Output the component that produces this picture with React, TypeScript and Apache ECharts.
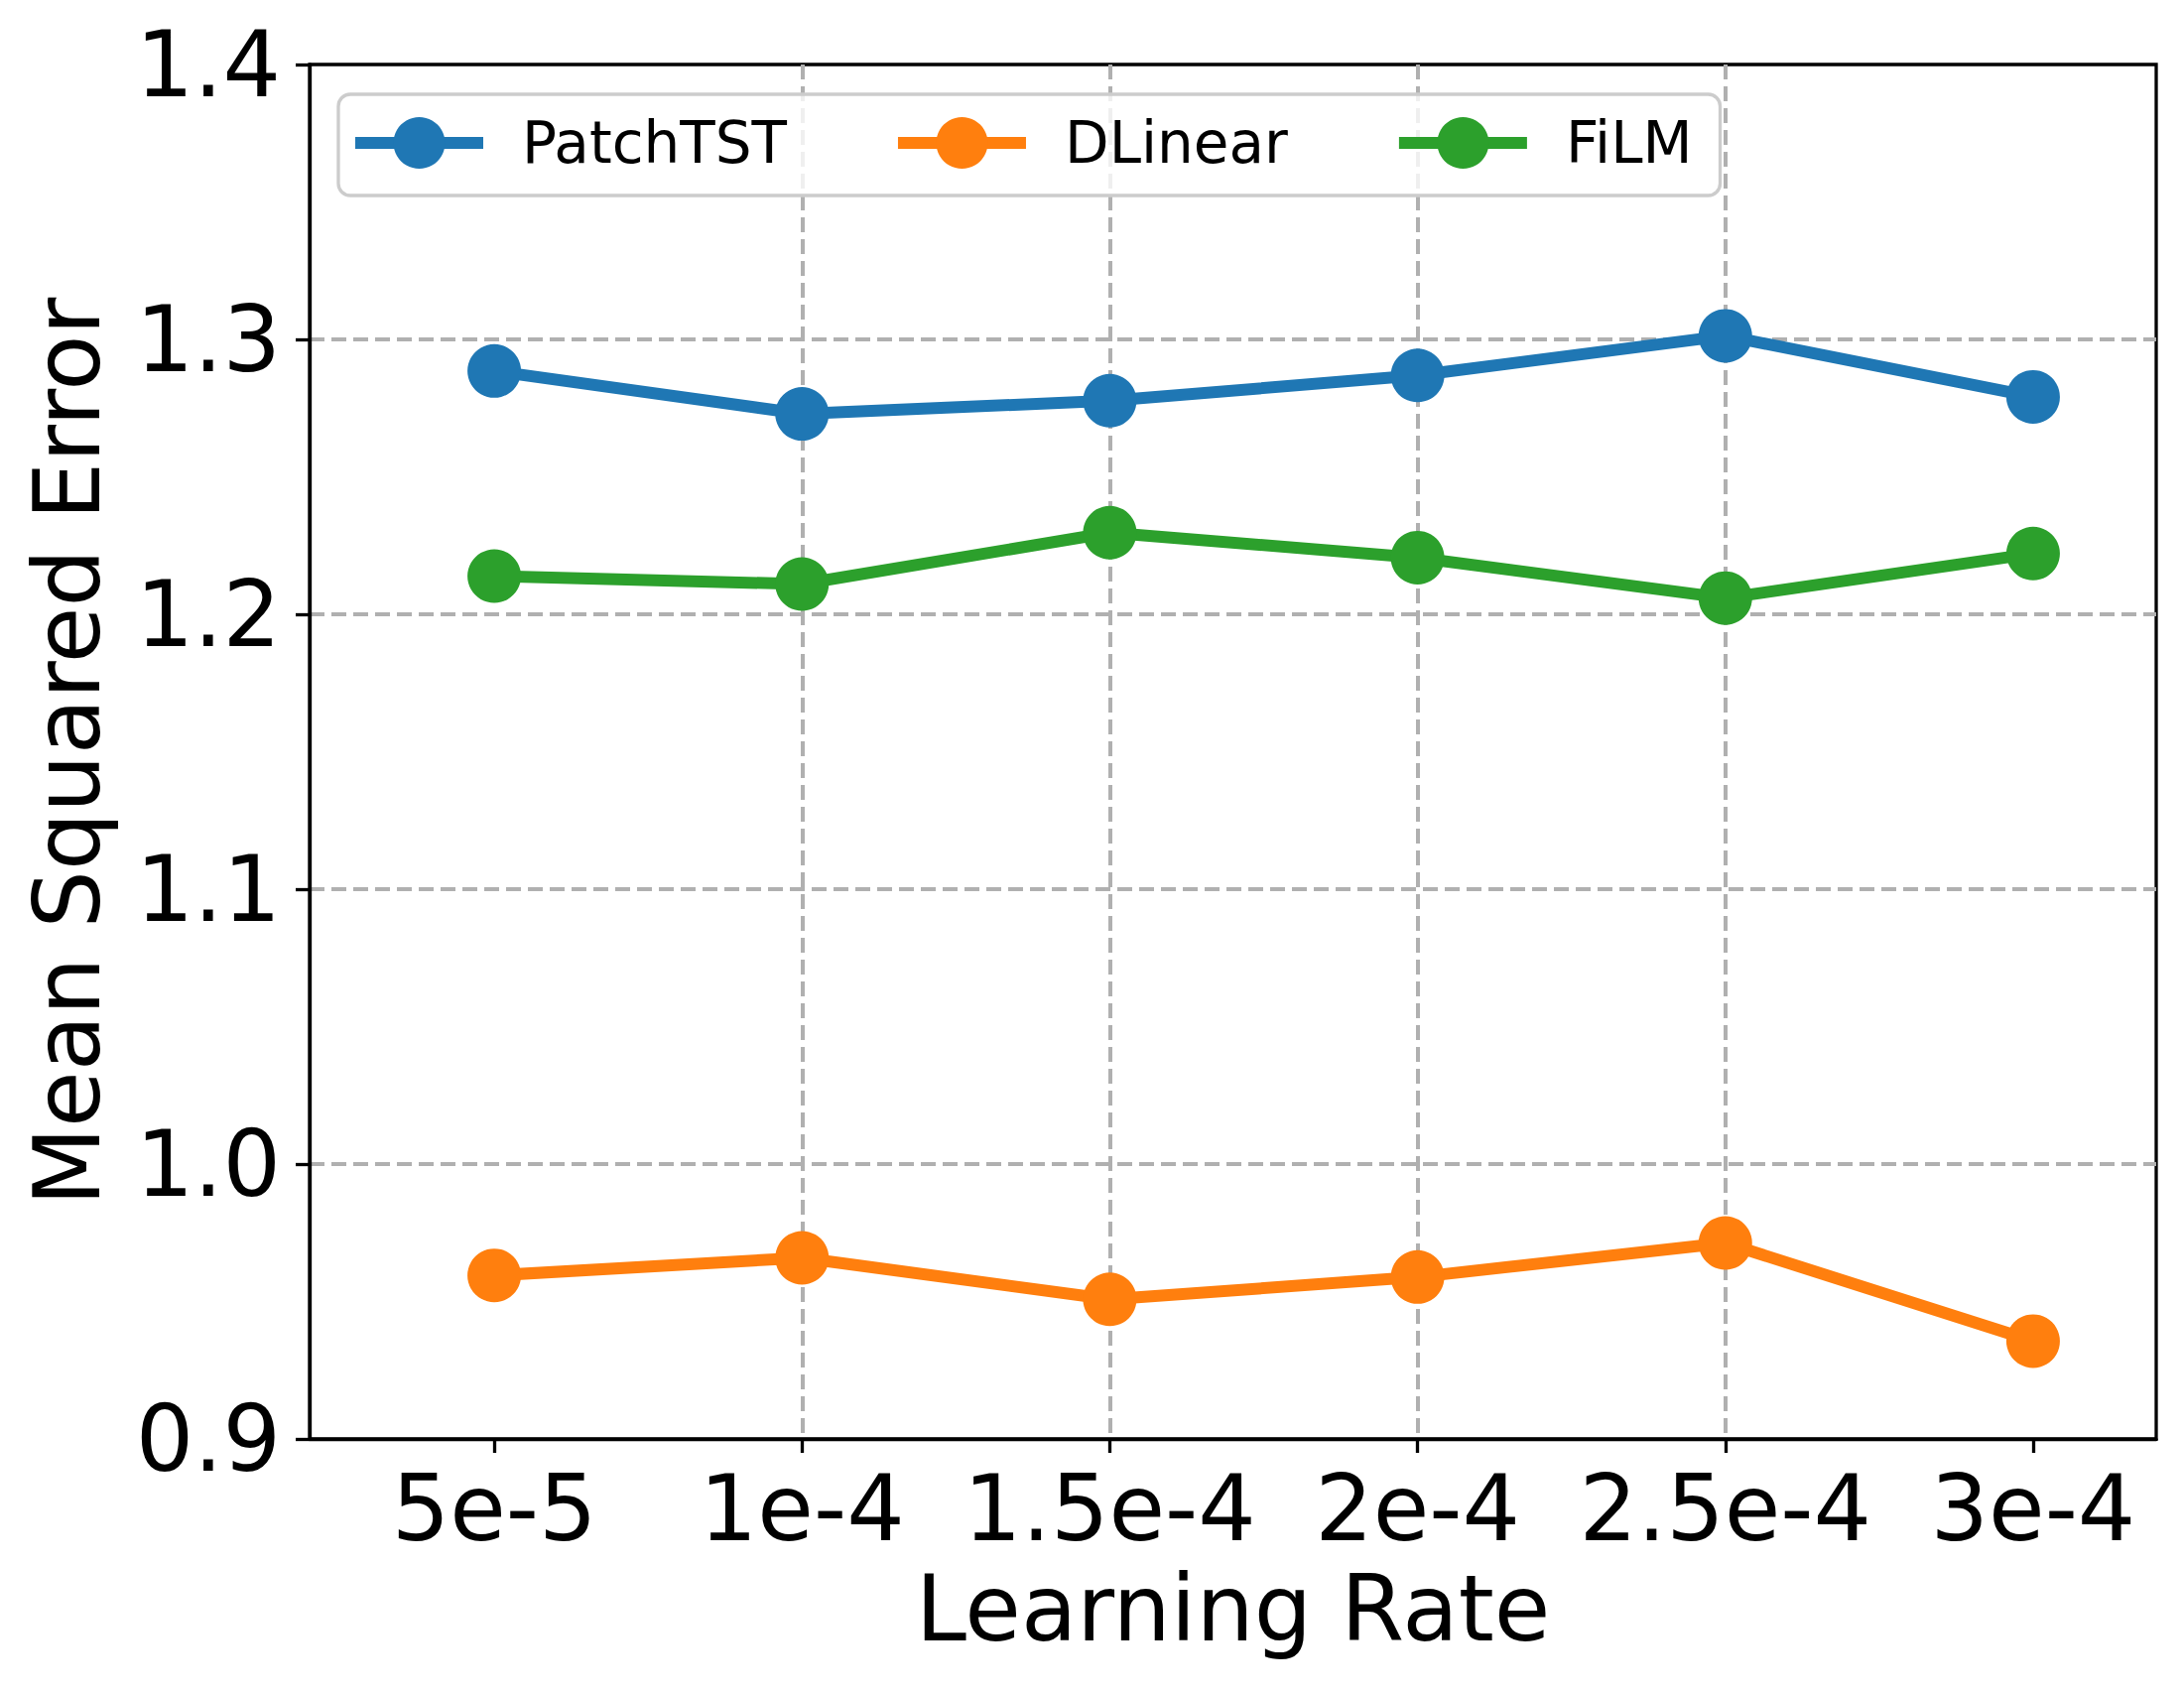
import React, { useEffect, useRef } from "react";
import * as echarts from "echarts";

const xLabels = ["5e-5", "1e-4", "1.5e-4", "2e-4", "2.5e-4", "3e-4"];
const xPositions = [0, 1, 2, 3, 4, 5];
const patchTST = [1.2885, 1.2729, 1.2777, 1.2869, 1.3013, 1.2791];
const dLinear = [0.9595, 0.9659, 0.9508, 0.9589, 0.9713, 0.9356];
const fiLM = [1.2139, 1.211, 1.2297, 1.2206, 1.2059, 1.2221];
const seriesNames = ["PatchTST", "DLinear", "FiLM"];
const seriesColors = ["#1f77b4", "#ff7f0e", "#2ca02c"];
const seriesValues = [patchTST, dLinear, fiLM];

const FONT = "DejaVu Sans";

export default function App() {
  const ref = useRef<HTMLDivElement>(null);
  useEffect(() => {
    document.body.style.margin = "0";
    if (!ref.current) return;
    const chart = echarts.init(ref.current, undefined, { renderer: "svg" });
    const gridLine = { color: "#b0b0b0", width: 4, type: [15, 7] };
    chart.setOption({
      animation: false,
      backgroundColor: "#ffffff",
      textStyle: { fontFamily: FONT },
      grid: {
        left: 312,
        right: 28,
        top: 65,
        bottom: 257,
        show: true,
        borderColor: "#000",
        borderWidth: 3.3,
        containLabel: false,
      },
      legend: {
        left: 341,
        top: 95,
        orient: "horizontal",
        itemWidth: 129,
        itemHeight: 65,
        itemGap: 106,
        padding: [20, 28, 24, 11],
        backgroundColor: "rgba(255,255,255,0.8)",
        borderColor: "#cccccc",
        borderWidth: 3.3,
        borderRadius: 12,
        lineStyle: { width: 12 },
        textStyle: {
          fontFamily: FONT,
          fontSize: 58,
          color: "#000",
          padding: [0, 0, 0, 34],
        },
        data: seriesNames,
      },
      xAxis: {
        type: "value",
        min: -0.6,
        max: 5.4,
        name: "Learning Rate",
        nameLocation: "middle",
        nameGap: 125,
        nameTextStyle: { fontFamily: FONT, fontSize: 92, color: "#000" },
        axisLine: { show: true, onZero: false, lineStyle: { color: "#000", width: 3.3 } },
        axisTick: {
          show: true,
          length: 14,
          lineStyle: { color: "#000", width: 3.3 },
          customValues: xPositions,
        },
        axisLabel: {
          customValues: xPositions,
          fontFamily: FONT,
          fontSize: 92,
          color: "#000",
          margin: 24,
          formatter: (v: number) => xLabels[Math.round(v)] ?? "",
        },
        splitLine: {
          show: true,
          showMinLine: false,
          showMaxLine: false,
          lineStyle: gridLine,
        },
      },
      yAxis: {
        type: "value",
        min: 0.9,
        max: 1.4,
        interval: 0.1,
        name: "Mean Squared Error",
        nameLocation: "middle",
        nameGap: 198,
        nameRotate: 90,
        nameTextStyle: { fontFamily: FONT, fontSize: 92, color: "#000" },
        axisLine: { show: true, onZero: false, lineStyle: { color: "#000", width: 3.3 } },
        axisTick: { show: true, length: 14, lineStyle: { color: "#000", width: 3.3 } },
        axisLabel: {
          fontFamily: FONT,
          fontSize: 92,
          color: "#000",
          margin: 29,
          formatter: (v: number) => v.toFixed(1),
        },
        splitLine: {
          show: true,
          showMinLine: false,
          showMaxLine: false,
          lineStyle: gridLine,
        },
      },
      series: seriesNames.map((name, i) => ({
        name,
        type: "line",
        data: xPositions.map((x, j) => [x, seriesValues[i][j]]),
        symbol: "circle",
        symbolSize: 54,
        showSymbol: true,
        color: seriesColors[i],
        lineStyle: { width: 12, color: seriesColors[i] },
        itemStyle: { color: seriesColors[i] },
        z: 3,
      })),
    });
    return () => chart.dispose();
  }, []);
  return <div ref={ref} style={{ width: 2201, height: 1707 }} />;
}
